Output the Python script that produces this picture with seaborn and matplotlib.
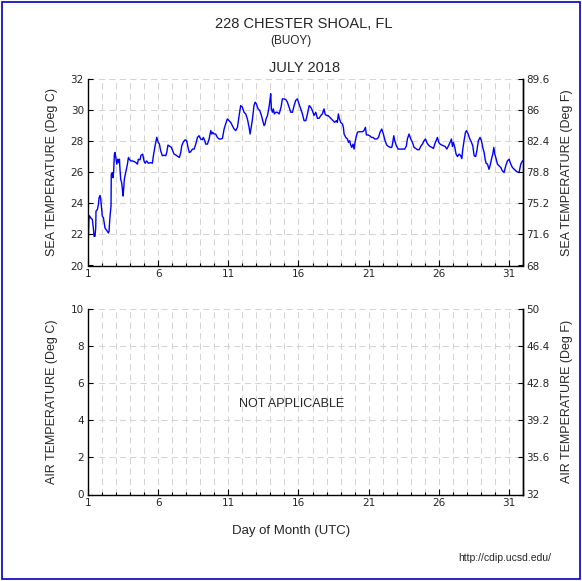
import matplotlib
matplotlib.use("Agg")
import matplotlib.pyplot as plt
import seaborn as sns
import pandas as pd
from matplotlib.patches import Rectangle

# ---------------- data ----------------
day = [
    1.00, 1.02, 1.06, 1.10, 1.19, 1.31, 1.38, 1.43, 1.50, 1.55, 1.57, 1.67, 1.74, 1.79, 1.86, 1.91, 1.98,
    2.02, 2.10, 2.21, 2.29, 2.38, 2.45, 2.50, 2.52, 2.57, 2.64, 2.66, 2.74, 2.78, 2.83, 2.88, 2.93,
    3.00, 3.05, 3.12, 3.19, 3.24, 3.28, 3.33, 3.40, 3.45, 3.50, 3.54, 3.59, 3.66, 3.71, 3.76, 3.81, 3.88, 3.95,
    4.04, 4.16, 4.28, 4.42, 4.52, 4.59, 4.71, 4.78, 4.90, 4.99, 5.07, 5.18, 5.30, 5.49, 5.59, 5.66, 5.78, 5.90, 5.99,
    6.09, 6.18, 6.30, 6.42, 6.54, 6.61, 6.70, 6.85, 6.94, 7.04, 7.13, 7.27, 7.42, 7.51, 7.61, 7.68, 7.80, 7.92,
    8.03, 8.13, 8.22, 8.32, 8.44, 8.56, 8.68, 8.80, 8.91, 9.03, 9.15, 9.22, 9.32, 9.39, 9.51, 9.63, 9.75, 9.82, 9.89, 9.98,
    10.10, 10.22, 10.34, 10.46, 10.58, 10.70, 10.81, 10.93, 11.05, 11.17, 11.29, 11.41, 11.53, 11.65, 11.77, 11.88,
    12.00, 12.12, 12.24, 12.36, 12.48, 12.55, 12.65, 12.72, 12.83, 12.91, 13.00, 13.12, 13.24, 13.36, 13.45, 13.55,
    13.62, 13.69, 13.79, 13.88, 13.95, 14.02, 14.07, 14.14, 14.21, 14.28, 14.38, 14.50, 14.62, 14.69, 14.78, 14.85,
    14.97, 15.09, 15.21, 15.33, 15.45, 15.57, 15.69, 15.80, 15.92, 16.04, 16.16, 16.28, 16.40, 16.52, 16.64, 16.76,
    16.87, 16.99, 17.11, 17.23, 17.35, 17.47, 17.59, 17.70, 17.82, 17.89, 17.99, 18.11, 18.23, 18.35, 18.46, 18.58,
    18.70, 18.77, 18.84, 18.92, 19.01, 19.13, 19.20, 19.25, 19.37, 19.49, 19.56, 19.65, 19.72, 19.80, 19.89, 19.96,
    20.03, 20.13, 20.20, 20.32, 20.44, 20.56, 20.67, 20.77, 20.84, 20.96, 21.08, 21.20, 21.32, 21.43, 21.58, 21.70,
    21.81, 21.93, 22.05, 22.17, 22.29, 22.41, 22.53, 22.65, 22.72, 22.79, 22.86, 22.98, 23.10, 23.22, 23.34, 23.45,
    23.57, 23.69, 23.76, 23.88, 24.00, 24.12, 24.24, 24.36, 24.48, 24.60, 24.71, 24.83, 24.95, 25.05, 25.14, 25.26,
    25.38, 25.50, 25.62, 25.71, 25.81, 25.90, 26.00, 26.09, 26.21, 26.33, 26.45, 26.57, 26.69, 26.80, 26.90, 26.97,
    27.04, 27.14, 27.23, 27.33, 27.45, 27.56, 27.64, 27.71, 27.80, 27.90, 27.97, 28.09, 28.21, 28.33, 28.42, 28.52,
    28.63, 28.71, 28.82, 28.94, 29.04, 29.13, 29.23, 29.30, 29.37, 29.47, 29.58, 29.66, 29.75, 29.85, 29.92, 29.99,
    30.06, 30.18, 30.30, 30.42, 30.53, 30.65, 30.77, 30.89, 31.01, 31.13, 31.25, 31.37, 31.49, 31.60, 31.72, 31.84,
    31.96, 32.00,
]
sea_temp_c = [
    23.00, 21.60, 22.90, 23.20, 23.07, 22.96, 22.42, 21.88, 21.88, 22.42, 23.50, 23.60, 23.93, 24.36, 24.51, 24.25, 23.60,
    23.17, 23.07, 22.42, 22.31, 22.20, 22.09, 22.20, 22.53, 23.17, 23.82, 25.87, 25.98, 25.65, 26.09, 27.16, 27.27,
    26.84, 26.52, 26.84, 26.62, 26.84, 26.19, 25.55, 25.33, 24.90, 24.47, 24.90, 25.55, 25.87, 26.09, 26.30, 26.52, 26.95, 26.84,
    26.73, 26.73, 26.69, 26.62, 26.52, 26.84, 26.80, 27.10, 27.16, 26.73, 26.58, 26.73, 26.58, 26.62, 26.58, 27.06, 27.70, 28.25, 27.95,
    27.81, 27.38, 27.06, 27.10, 27.06, 27.27, 27.75, 27.66, 27.60, 27.38, 27.17, 27.10, 27.01, 26.95, 27.27, 27.70, 27.96, 28.09,
    28.03, 27.60, 27.27, 27.32, 27.49, 27.49, 27.81, 28.24, 28.35, 28.14, 28.09, 28.24, 28.03, 27.81, 27.81, 28.14, 28.68, 28.46, 28.57, 28.46,
    28.46, 28.24, 28.14, 28.14, 28.18, 28.78, 29.11, 29.43, 29.32, 29.21, 29.00, 28.78, 28.68, 28.89, 29.65, 30.29,
    30.19, 29.86, 29.75, 29.43, 28.89, 28.46, 29.00, 29.43, 30.29, 30.51, 30.40, 30.08, 29.97, 29.65, 29.32, 29.00,
    29.11, 29.43, 29.65, 30.08, 30.51, 31.05, 30.08, 29.86, 30.08, 29.75, 29.86, 29.86, 29.75, 29.97, 30.29, 30.72,
    30.72, 30.68, 30.51, 30.19, 29.86, 29.86, 30.29, 30.62, 30.72, 30.40, 30.08, 29.75, 29.32, 29.32, 29.75, 30.29,
    30.19, 29.97, 29.65, 29.86, 29.47, 29.47, 29.65, 29.75, 30.08, 29.75, 29.65, 29.65, 29.54, 29.43, 29.32, 29.21,
    29.32, 29.21, 29.75, 29.43, 29.21, 29.11, 28.89, 28.46, 28.24, 28.14, 27.92, 28.03, 27.75, 27.60, 27.81, 27.49,
    27.92, 28.35, 28.57, 28.61, 28.61, 28.61, 28.68, 28.89, 28.40, 28.40, 28.35, 28.24, 28.24, 28.14, 28.14, 28.24,
    28.57, 28.78, 28.46, 28.03, 27.75, 27.66, 27.60, 27.60, 27.92, 28.35, 28.03, 27.70, 27.49, 27.49, 27.49, 27.49,
    27.49, 27.70, 28.14, 28.46, 28.14, 27.92, 27.60, 27.53, 27.45, 27.45, 27.66, 27.81, 28.03, 28.14, 27.92, 27.75,
    27.66, 27.60, 27.53, 27.81, 28.03, 28.24, 27.92, 27.81, 27.75, 27.70, 27.66, 27.49, 27.70, 27.92, 28.14, 27.66,
    27.92, 27.60, 27.17, 27.01, 27.17, 27.06, 26.88, 27.49, 28.03, 28.57, 28.68, 28.46, 28.14, 27.92, 27.70, 27.06,
    27.01, 27.38, 28.03, 28.24, 28.03, 27.60, 27.27, 26.84, 26.58, 26.52, 26.19, 26.45, 26.84, 27.17, 27.60, 27.17,
    26.95, 26.52, 26.41, 26.30, 26.09, 25.98, 26.41, 26.73, 26.84, 26.52, 26.30, 26.19, 26.09, 26.02, 25.98, 26.52,
    26.73, 26.73,
]

x_major_ticks = [1, 6, 11, 16, 21, 26, 31]
sea_c_ticks = [20, 22, 24, 26, 28, 30, 32]
sea_f_labels = ["68", "71.6", "75.2", "78.8", "82.4", "86", "89.6"]
air_c_ticks = [0, 2, 4, 6, 8, 10]
air_f_labels = ["32", "35.6", "39.2", "42.8", "46.4", "50"]

# ---------------- style ----------------
sns.set_style("white")
plt.rcParams['font.family'] = ['DejaVu Sans']
ARIAL = 'Liberation Sans'
GRID = dict(color='#d4d4d4', lw=0.75, ls=(0, (6, 4)))

fig = plt.figure(figsize=(5.82, 5.81), dpi=100)
fig.patches.append(Rectangle((0.0035, 0.0035), 0.993, 0.993, transform=fig.transFigure,
                             fill=False, edgecolor='#0000bb', lw=1.2))

L, W = 88 / 582, 435 / 582
ax1 = fig.add_axes([L, 1 - 265.5 / 581, W, 186.5 / 581])
ax2 = fig.add_axes([L, 1 - 494.5 / 581, W, 185.5 / 581])

df = pd.DataFrame({"day": day, "temp": sea_temp_c})
sns.lineplot(data=df, x="day", y="temp", ax=ax1, color="#0000ff", lw=1.0,
             estimator=None, sort=False)


def style(ax, cticks, flabels, ylab, rlab):
    ax.set_xlim(1, 32)
    ax.set_ylim(cticks[0], cticks[-1])
    ax.set_xticks(x_major_ticks)
    ax.set_xticks(range(1, 33), minor=True)
    ax.set_yticks(cticks)
    ax.set_xticklabels([str(v) for v in x_major_ticks])
    ax.grid(False)
    for d in range(2, 32):
        ax.axvline(d, zorder=0, **GRID)
    for c in cticks[1:]:
        ax.axhline(c, zorder=0, **GRID)
    ax.spines['top'].set_visible(False)
    for s in ['left', 'right', 'bottom']:
        ax.spines[s].set_color('black')
        ax.spines[s].set_linewidth(1.0)
    ax.tick_params(axis='x', which='major', direction='in', length=4.5, width=0.8,
                   labelsize=7.5, pad=2.5, bottom=True, color='black')
    ax.tick_params(axis='x', which='minor', direction='in', length=2.5, width=0.8,
                   bottom=True, color='black')
    ax.tick_params(axis='y', which='major', direction='in', length=3.5, width=0.8,
                   labelsize=7.5, pad=3, left=True, color='black')
    ax.set_xlabel('')
    ax.set_ylabel(ylab, fontfamily=ARIAL, fontsize=9, va='center')
    ax.yaxis.set_label_coords(-0.082, 0.5)
    axr = ax.twinx()
    axr.set_ylim(cticks[0], cticks[-1])
    axr.set_yticks(cticks)
    axr.set_yticklabels(flabels)
    axr.grid(False)
    for s in ['top', 'left', 'bottom']:
        axr.spines[s].set_visible(False)
    axr.spines['right'].set_color('black')
    axr.spines['right'].set_linewidth(1.0)
    axr.tick_params(axis='y', direction='in', length=3.5, width=0.8, labelsize=7.5,
                    pad=2.5, right=True, color='black')
    axr.set_ylabel(rlab, fontfamily=ARIAL, fontsize=9, va='center', rotation=90)
    axr.yaxis.set_label_coords(1.101, 0.5)
    return axr


style(ax1, sea_c_ticks, sea_f_labels, "SEA TEMPERATURE (Deg C)", "SEA TEMPERATURE (Deg F)")
style(ax2, air_c_ticks, air_f_labels, "AIR TEMPERATURE (Deg C)", "AIR TEMPERATURE (Deg F)")

ax2.text(0.467, 0.49, "NOT APPLICABLE", transform=ax2.transAxes, ha='center', va='center',
         fontfamily=ARIAL, fontsize=9)

fig.text(304 / 582, 1 - 24 / 581, "228 CHESTER SHOAL, FL", ha='center', va='center',
         fontfamily=ARIAL, fontsize=10.5)
fig.text(291 / 582, 1 - 41 / 581, "(BUOY)", ha='center', va='center',
         fontfamily=ARIAL, fontsize=8.5)
fig.text(305 / 582, 1 - 68 / 581, "JULY 2018", ha='center', va='center',
         fontfamily=ARIAL, fontsize=10.5)
fig.text(291 / 582, 1 - 531 / 581, "Day of Month (UTC)", ha='center', va='center',
         fontfamily=ARIAL, fontsize=9.5)
fig.text(551 / 582, 1 - 558 / 581, "http://cdip.ucsd.edu/", ha='right', va='center',
         fontfamily=ARIAL, fontsize=7.5)

fig.savefig("out.png", dpi=100)
